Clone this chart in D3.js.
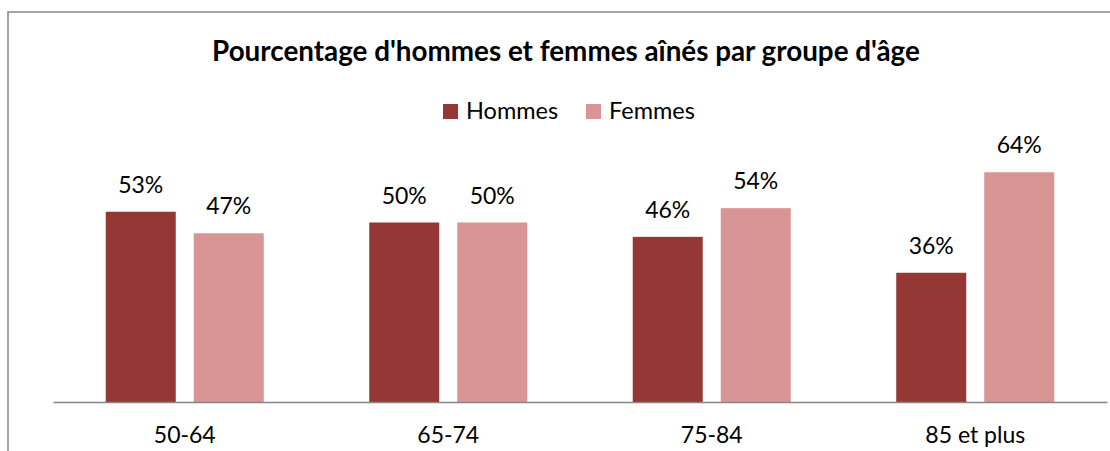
<!DOCTYPE html>
<html><head><meta charset="utf-8">
<script src="https://cdn.jsdelivr.net/npm/d3@7"></script>
<style>body{margin:0;background:#fff}svg{display:block}</style>
</head><body>
<svg id="c" width="1110" height="451"></svg>
<script>
const title = "Pourcentage d'hommes et femmes aînés par groupe d'âge";
const categories = ["50-64", "65-74", "75-84", "85 et plus"];
const seriesNames = ["Hommes", "Femmes"];
const hommes = [53, 50, 46, 36];
const femmes = [47, 50, 54, 64];
const colors = ["#953735", "#D99594"];

const svg = d3.select("#c");
const font = "Lato, 'Open Sans', sans-serif";

svg.append("rect").attr("x", 8).attr("y", 12).attr("width", 1200).attr("height", 500)
  .attr("fill", "#fff").attr("stroke", "#868686").attr("stroke-width", 1.5);

const plot = {left: 53, right: 1107, top: 150.7, bottom: 402};
const x0 = d3.scaleBand().domain(categories).range([plot.left, plot.right]).paddingInner(0).paddingOuter(0);
const bw = x0.bandwidth();
const barW = bw * 0.2657;
const gap = bw * 0.0683;
const groupW = barW * 2 + gap;
const y = d3.scaleLinear().domain([0, 70]).range([plot.bottom, plot.top]);

const data = categories.map((c, i) => ({cat: c, vals: [hommes[i], femmes[i]]}));

const g = svg.append("g");
data.forEach(d => {
  const gx = x0(d.cat) + (bw - groupW) / 2;
  d.vals.forEach((v, j) => {
    const bx = gx + j * (barW + gap);
    g.append("rect").attr("x", bx).attr("y", y(v)).attr("width", barW)
      .attr("height", y(0) - y(v)).attr("fill", colors[j]);
    g.append("text").attr("x", bx + barW / 2).attr("y", y(v) - 19)
      .attr("text-anchor", "middle").attr("font-family", font).attr("font-size", 23)
      .attr("fill", "#000").text(v + "%");
  });
});

const xAxis = d3.axisBottom(x0).tickSize(0).tickPadding(25);
const ax = svg.append("g").attr("transform", `translate(0,${plot.bottom})`).call(xAxis);
ax.select(".domain").attr("stroke", "#868686").attr("stroke-width", 1.5);
ax.selectAll("text").attr("font-family", font).attr("font-size", 23).attr("fill", "#000");

svg.append("text").attr("x", 566).attr("y", 61).attr("text-anchor", "middle")
  .attr("font-family", font).attr("font-weight", "bold").attr("font-size", 27.8).text(title);

const leg = svg.append("g");
const legX = [443, 586];
seriesNames.forEach((s, j) => {
  leg.append("rect").attr("x", legX[j]).attr("y", 104).attr("width", 15).attr("height", 15).attr("fill", colors[j]);
  leg.append("text").attr("x", legX[j] + 23).attr("y", 119).attr("font-family", font)
    .attr("font-size", 23.5).text(s);
});
</script>
</body></html>
